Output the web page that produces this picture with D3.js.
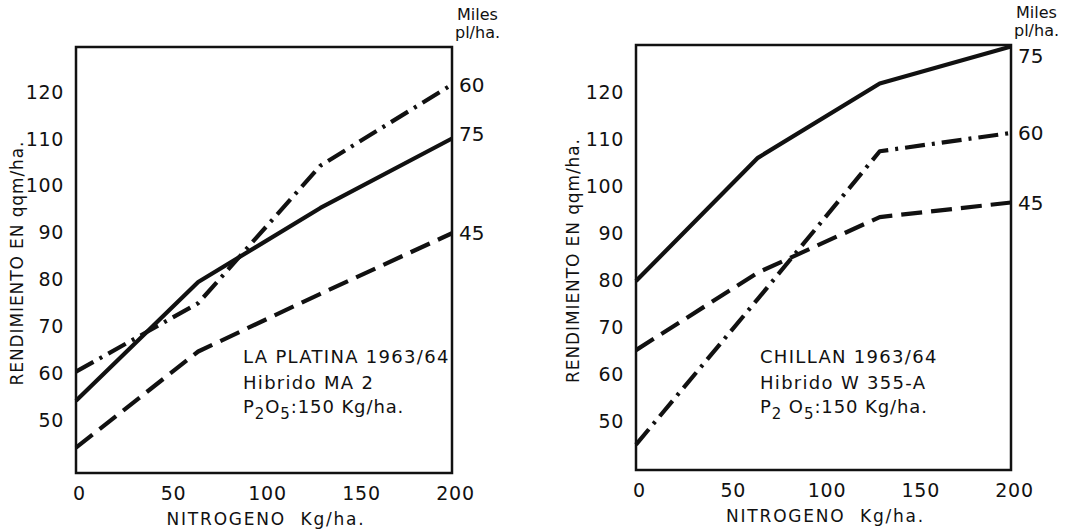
<!DOCTYPE html>
<html>
<head>
<meta charset="utf-8">
<script src="https://cdn.jsdelivr.net/npm/d3@7"></script>
<style>
  body { margin: 0; background: #fff; }
  svg text { font-family: 'DejaVu Sans', sans-serif; fill: #111; }
</style>
</head>
<body>
<script>
// Data (yield in qqm/ha vs nitrogen Kg/ha)
const nitrogeno = [0, 65, 130, 200]
const yTicks = [50, 60, 70, 80, 90, 100, 110, 120]
const xTicks = [0, 50, 100, 150, 200]
const densidades = ['75', '60', '45']   // miles pl/ha

const platina75 = [54.2, 79.5, 95.3, 110.1]
const platina60 = [60.4, 75.0, 104.3, 121.6]
const platina45 = [44.2, 64.7, 77.0, 89.9]

const chillan75 = [79.8, 106.0, 121.8, 129.7]
const chillan60 = [45.0, 76.0, 107.4, 111.3]
const chillan45 = [65.1, 81.6, 93.4, 96.5]

const platinaText = ['LA PLATINA 1963/64', 'Hibrido MA 2']
const chillanText = ['CHILLAN 1963/64', 'Hibrido W 355-A']

const dashes = { '75': null, '60': '20 7 3 7', '45': '21 9' }

const svg = d3.select('body').append('svg')
  .attr('width', 1070)
  .attr('height', 530)

function panel({ left, right, top, bottom, yDomain, series, text, textX, titleX, nudge }) {
  const x = d3.scaleLinear().domain([0, 200]).range([left, right])
  const y = d3.scaleLinear().domain(yDomain).range([bottom, top])
  const g = svg.append('g')

  // Lines
  const line = d3.line().x((d, i) => x(nitrogeno[i])).y(d => y(d))
  series.forEach((vals, k) => {
    g.append('path')
      .attr('d', line(vals))
      .attr('fill', 'none')
      .attr('stroke', '#111')
      .attr('stroke-width', 4.2)
      .attr('stroke-linejoin', 'round')
      .attr('stroke-dasharray', dashes[densidades[k]])
  })

  // Frame
  g.append('rect')
    .attr('x', left).attr('y', top)
    .attr('width', right - left).attr('height', bottom - top)
    .attr('fill', 'none')
    .attr('stroke', '#111')
    .attr('stroke-width', 2.5)

  // Axes (labels only, no tick marks)
  const yAxis = g.append('g')
    .attr('transform', `translate(${left - 6},0)`)
    .call(d3.axisLeft(y).tickValues(yTicks).tickSize(0).tickPadding(6))
  const xAxis = g.append('g')
    .attr('transform', `translate(0,${bottom + 8})`)
    .call(d3.axisBottom(x).tickValues(xTicks).tickSize(0).tickPadding(6))
  for (const ax of [yAxis, xAxis]) {
    ax.select('.domain').remove()
    ax.selectAll('text')
      .style('font-family', "'DejaVu Sans', sans-serif")
      .style('font-size', '19px')
      .style('letter-spacing', '0.7px')
      .attr('fill', '#111')
  }
  xAxis.selectAll('text').attr('dx', 3)

  // Axis titles
  g.append('text')
    .attr('transform', `translate(${titleX},${(top + bottom) / 2 + 3}) rotate(-90)`)
    .attr('text-anchor', 'middle')
    .attr('dy', '0.35em')
    .style('font-size', '17px')
    .style('letter-spacing', '0.9px')
    .text('RENDIMIENTO EN qqm/ha.')
  g.append('text')
    .attr('x', (left + right) / 2 + 2)
    .attr('y', bottom + 52)
    .attr('text-anchor', 'middle')
    .style('font-size', '17px')
    .style('letter-spacing', '1.8px')
    .style('white-space', 'pre')
    .text('NITROGENO  Kg/ha.')

  // Right side density labels
  g.append('text').attr('x', right + 5).attr('y', top - 27)
    .style('font-size', '16px').text('Miles')
  g.append('text').attr('x', right + 3).attr('y', top - 9)
    .style('font-size', '16px').text('pl/ha.')
  series.forEach((vals, k) => {
    g.append('text')
      .attr('x', right + 7)
      .attr('y', y(vals[vals.length - 1]) + (nudge[k] || 0))
      .attr('dy', '0.36em')
      .style('font-size', '20px')
      .text(densidades[k])
  })

  // Annotation
  g.append('text').attr('x', textX).attr('y', 363)
    .style('font-size', '18px').style('letter-spacing', '1.3px')
    .text(text[0])
  g.append('text').attr('x', textX).attr('y', 389)
    .style('font-size', '18px').style('letter-spacing', '1.3px')
    .text(text[1])
  const p = g.append('text').attr('x', textX).attr('y', 413)
    .style('font-size', '18px').style('letter-spacing', '0.9px')
  p.append('tspan').text('P')
  p.append('tspan').attr('dy', 6).style('font-size', '15px').text('2')
  p.append('tspan').attr('dy', -6).text(textX > 500 ? ' O' : 'O')
  p.append('tspan').attr('dy', 6).style('font-size', '15px').text('5')
  p.append('tspan').attr('dy', -6).text(':150 Kg/ha.')
}

panel({
  left: 76, right: 452, top: 47, bottom: 473,
  yDomain: [38.8, 129.6],
  series: [platina75, platina60, platina45],
  text: platinaText, textX: 243, titleX: 17, nudge: [-5, 0, 0]
})

panel({
  left: 636, right: 1011, top: 45, bottom: 470,
  yDomain: [39.6, 130],
  series: [chillan75, chillan60, chillan45],
  text: chillanText, textX: 760, titleX: 573, nudge: [9, 0, 0]
})
</script>
</body>
</html>
